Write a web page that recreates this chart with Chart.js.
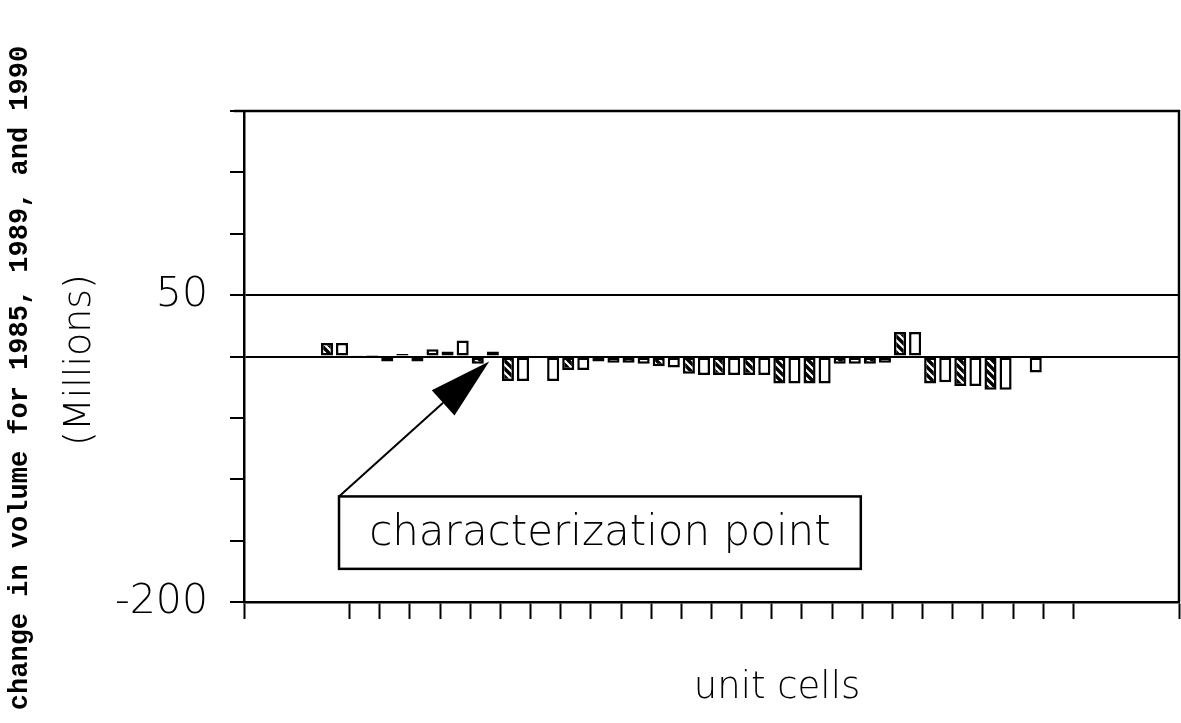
<!DOCTYPE html>
<html><head><meta charset="utf-8">
<script src="https://cdn.jsdelivr.net/npm/chart.js@4.4.1/dist/chart.umd.min.js"></script>
<style>html,body{margin:0;padding:0;background:#fff}canvas{display:block}</style>
</head><body>
<canvas id="c" width="1181" height="723"></canvas>
<script>
// ---- data ----
const unitCells = [1,2,3,4,5,6,7,8,9,10,11,12,13,14,15,16,17,18,19,20,21,22,23,24,25,26,27,28,29,30];
// hatched bars (first bar of each unit cell)
const change1985to1989 = [null,null,11,1,-4,-4,4,-6,-20,null,-11,-4,-5,-8,-14,-15,-15,-22,-22,-6,-6,20,-22,-24,-27,null,null,null,null,null];
// open bars (second bar of each unit cell)
const change1989to1990 = [null,null,11,0.5,2,6,13,4,-20,-20,-11,-5,-6,-9,-15,-15,-15,-22,-22,-6,-5,20,-21,-24,-27,-13,null,null,null,null];
const yLabeledTicks = [50, -200];
const yGridValues = [0, 50];
const xTickMarks = [0,3.5,4.5,5.5,6.5,7.5,8.5,9.5,10.5,11.5,12.5,13.5,14.5,15.5,16.5,17.5,18.5,19.5,20.5,21.5,22.5,23.5,24.5,25.5,26.5,27.5,31];
const annotationText = 'characterization point';
const yTitle1 = 'change in volume for 1985, 1989, and 1990';
const yTitle2 = '(Millions)';
const xTitle = 'unit cells';
// annotation placement in data units
const note = { boxX: [3.15, 20.45], boxY: [-114, -173], tipX: 8.13, tipY: -4 };

// ---- hatch pattern ----
function makeHatch() {
  const s = 8, c = document.createElement('canvas');
  c.width = s; c.height = s;
  const g = c.getContext('2d');
  g.fillStyle = '#fff'; g.fillRect(0, 0, s, s);
  g.strokeStyle = '#000'; g.lineWidth = 3.4;
  g.beginPath();
  g.moveTo(-2, -2); g.lineTo(s + 2, s + 2);
  g.moveTo(-s / 2 - 2, s / 2 - 2); g.lineTo(s / 2 + 2, s * 1.5 + 2);
  g.moveTo(s / 2 - 2, -s / 2 - 2); g.lineTo(s * 1.5 + 2, s / 2 + 2);
  g.stroke();
  return g.createPattern(c, 'repeat');
}
const hatch = makeHatch();

const LIGHT = 'DejaVu Sans';

const notesPlugin = {
  id: 'notes',
  afterDraw(chart) {
    const { ctx, chartArea: a, scales: { x, y } } = chart;
    ctx.save();
    ctx.strokeStyle = '#000';
    ctx.fillStyle = '#000';
    ctx.lineWidth = 2.5;
    // top and right frame
    ctx.beginPath();
    ctx.moveTo(a.left, a.top); ctx.lineTo(a.right, a.top); ctx.lineTo(a.right, a.bottom);
    ctx.stroke();
    ctx.beginPath(); ctx.moveTo(a.left - 10, a.top); ctx.lineTo(a.left, a.top); ctx.stroke();

    // annotation box
    const bx0 = x.getPixelForValue(note.boxX[0]), bx1 = x.getPixelForValue(note.boxX[1]);
    const by0 = y.getPixelForValue(note.boxY[0]), by1 = y.getPixelForValue(note.boxY[1]);
    ctx.lineWidth = 2.5;
    ctx.strokeRect(bx0, by0, bx1 - bx0, by1 - by0);
    ctx.font = '200 42px "' + LIGHT + '"';
    ctx.textAlign = 'center'; ctx.textBaseline = 'middle';
    ctx.fillText(annotationText, (bx0 + bx1) / 2, (by0 + by1) / 2 + 1);

    // arrow
    const tx = x.getPixelForValue(note.tipX), ty = y.getPixelForValue(note.tipY);
    const dx = tx - bx0, dy = ty - by0, len = Math.hypot(dx, dy);
    const ux = dx / len, uy = dy / len;
    const headLen = 62, headHalf = 17;
    const bxC = tx - ux * headLen, byC = ty - uy * headLen;
    ctx.lineWidth = 2;
    ctx.beginPath(); ctx.moveTo(bx0, by0); ctx.lineTo(bxC, byC); ctx.stroke();
    ctx.beginPath();
    ctx.moveTo(tx, ty);
    ctx.lineTo(bxC - uy * headHalf, byC + ux * headHalf);
    ctx.lineTo(bxC + uy * headHalf, byC - ux * headHalf);
    ctx.closePath(); ctx.fill();

    // axis titles
    ctx.textAlign = 'center'; ctx.textBaseline = 'middle';
    ctx.save();
    ctx.translate(20, 378); ctx.rotate(-Math.PI / 2);
    ctx.font = 'bold 27px "Liberation Mono"';
    ctx.fillText(yTitle1, 0, 0);
    ctx.restore();
    ctx.save();
    ctx.translate(80, 360); ctx.rotate(-Math.PI / 2);
    ctx.font = '200 38px "' + LIGHT + '"';
    ctx.fillText(yTitle2, 0, 0);
    ctx.restore();
    ctx.font = '200 37px "' + LIGHT + '"';
    ctx.fillText(xTitle, 777, 688);
    ctx.restore();
  }
};

new Chart(document.getElementById('c'), {
  type: 'bar',
  data: {
    labels: unitCells,
    datasets: [
      { label: '1985-1989', data: change1985to1989, backgroundColor: hatch, borderColor: '#000', borderWidth: 2.5, borderSkipped: false, barPercentage: 0.8, categoryPercentage: 1 },
      { label: '1989-1990', data: change1989to1990, backgroundColor: '#fff', borderColor: '#000', borderWidth: 2.5, borderSkipped: false, barPercentage: 0.8, categoryPercentage: 1 }
    ]
  },
  options: {
    responsive: false,
    animation: false,
    layout: { padding: { top: 111, right: 2, left: 0, bottom: 0 } },
    plugins: { legend: { display: false }, tooltip: { enabled: false }, title: { display: false } },
    scales: {
      x: {
        type: 'linear', min: 0, max: 31, offset: false,
        afterBuildTicks: s => { s.ticks = xTickMarks.map(v => ({ value: v })); },
        afterFit: s => { s.height = 121; },
        ticks: { display: false },
        grid: { offset: false, drawOnChartArea: false, drawTicks: true, tickLength: 17, tickWidth: 2, tickColor: '#000' },
        border: { display: true, color: '#000', width: 2.5 }
      },
      y: {
        min: -200, max: 200,
        afterFit: s => { s.width = 244; },
        ticks: {
          stepSize: 50, padding: 22, color: '#000',
          font: { family: LIGHT, size: 41, weight: 200 },
          callback: v => yLabeledTicks.includes(v) ? String(v) : ''
        },
        grid: {
          color: c => (c.tick && yGridValues.includes(c.tick.value)) ? '#000' : 'rgba(0,0,0,0)',
          lineWidth: 2, tickColor: '#000', tickLength: 14, tickWidth: 2
        },
        border: { display: true, color: '#000', width: 2.5 }
      }
    }
  },
  plugins: [notesPlugin]
});
</script>
</body></html>
